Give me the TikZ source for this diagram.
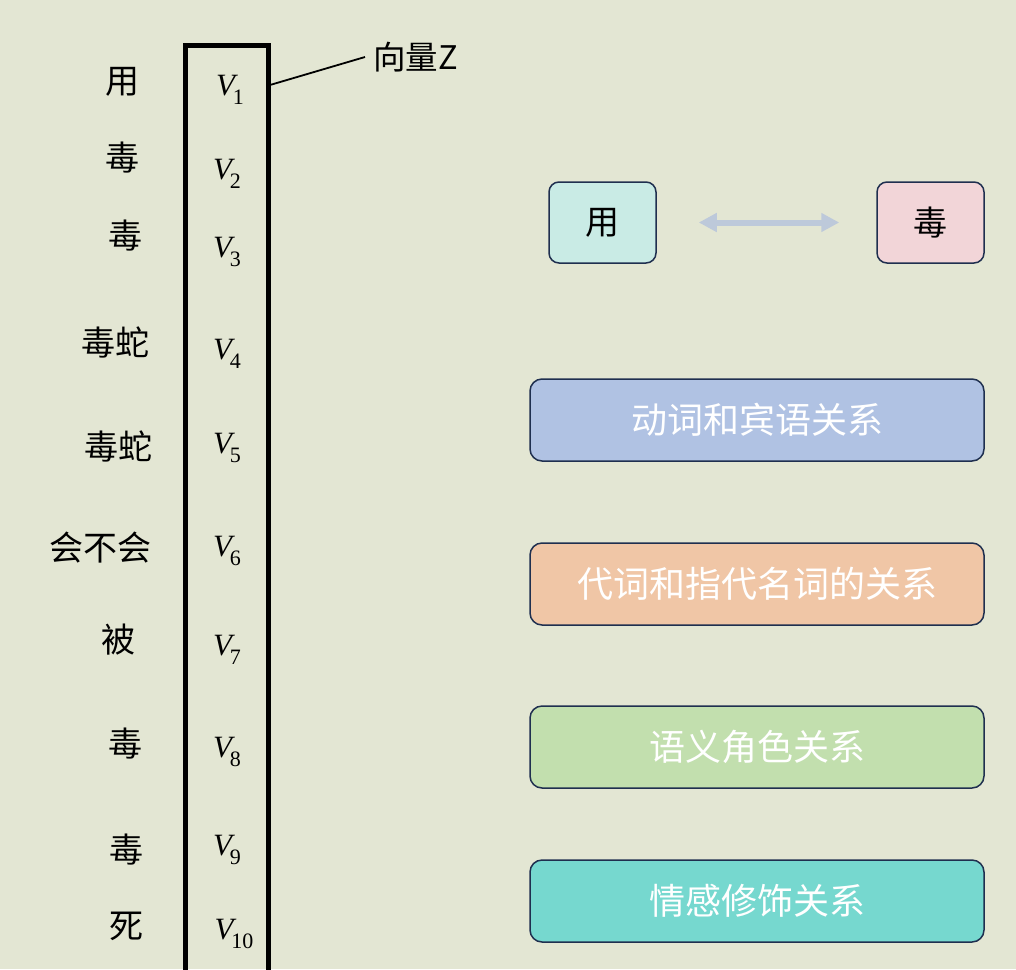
\documentclass[tikz,border=0pt]{standalone}
\usepackage{fontspec}
\newfontfamily\cjk{Noto Sans CJK SC}
\newfontfamily\vfont{Liberation Serif}
\usetikzlibrary{arrows.meta}
\definecolor{bgc}{HTML}{E3E6D3}
\definecolor{cyanbox}{HTML}{C9EBE5}
\definecolor{pinkbox}{HTML}{F2D5D8}
\definecolor{arrowc}{HTML}{BDC9DA}
\definecolor{edgec}{HTML}{1F2F4F}
\definecolor{bluebox}{HTML}{B0C2E3}
\definecolor{peachbox}{HTML}{F0C6A6}
\definecolor{greenbox}{HTML}{C2DFAE}
\definecolor{tealbox}{HTML}{76D8CF}
\newcommand{\vsub}[1]{{\vfont\itshape V}\kern-2pt\raisebox{-0.28em}{\vfont\fontsize{22}{23}\selectfont #1}}
\begin{document}
\begin{tikzpicture}[x=1pt,y=-1pt,
  word/.style={font=\cjk\fontsize{34}{36}\selectfont, inner sep=0pt},
  vlab/.style={font=\fontsize{31}{33}\selectfont, inner sep=0pt},
  small/.style={draw=edgec, line width=1.5pt, rounded corners=10pt, minimum width=107pt, minimum height=81pt, inner sep=0pt, font=\cjk\fontsize{34}{36}\selectfont},
  rel/.style={draw=edgec, line width=1.5pt, rounded corners=12pt, minimum width=454pt, minimum height=82pt, inner sep=0pt, text=white, font=\cjk\fontsize{36}{38}\selectfont}]
\useasboundingbox (0,0) rectangle (1016,969);
\fill[bgc] (0,0) rectangle (1016,969);
% vector column
\node[draw, line width=5pt, minimum width=83pt, minimum height=960pt, anchor=north west, inner sep=0pt, outer sep=0pt] (vec) at (185,45.5) {};
% words
\node[word] (w1) at (122,82) {用};
\node[word] (w2) at (122,158) {毒};
\node[word] (w3) at (125,236) {毒};
\node[word] (w4) at (115,342) {毒蛇};
\node[word] (w5) at (118,446) {毒蛇};
\node[word] (w6) at (100,548) {会不会};
\node[word] (w7) at (118,640) {被};
\node[word] (w8) at (125,744) {毒};
\node[word] (w9) at (126,850) {毒};
\node[word] (w10) at (126,926) {死};
% vector labels
\node[vlab] (v1) at (230,90) {\vsub{1}};
\node[vlab] (v2) at (227,174) {\vsub{2}};
\node[vlab] (v3) at (227,252) {\vsub{3}};
\node[vlab] (v4) at (227,354) {\vsub{4}};
\node[vlab] (v5) at (227,448) {\vsub{5}};
\node[vlab] (v6) at (227,551) {\vsub{6}};
\node[vlab] (v7) at (227,650) {\vsub{7}};
\node[vlab] (v8) at (227,752) {\vsub{8}};
\node[vlab] (v9) at (227,850) {\vsub{9}};
\node[vlab] (v10) at (234,934) {\vsub{10}};
% label for vector
\node[font=\cjk\fontsize{32.5}{34}\selectfont, inner sep=0pt, anchor=west] (zlab) at (373,57) {向量Z};
\coordinate (zl) at (270,85);
\draw[line width=1.8pt] (zl) -- ([xshift=-8pt]zlab.west);
% top pair
\node[small, fill=cyanbox] (yong) at (602.5,222.5) {用};
\node[small, fill=pinkbox] (du) at (930.5,222.5) {毒};
\draw[arrowc, line width=6pt, {Triangle[length=18pt,width=18pt]}-{Triangle[length=18pt,width=18pt]}] ([xshift=42pt]yong.east) -- ([xshift=-37pt]du.west);
% relation boxes
\node[rel, fill=bluebox] (r1) at (757,420) {动词和宾语关系};
\node[rel, fill=peachbox] (r2) at (757,584) {代词和指代名词的关系};
\node[rel, fill=greenbox] (r3) at (757,747) {语义角色关系};
\node[rel, fill=tealbox] (r4) at (757,901) {情感修饰关系};
\end{tikzpicture}
\end{document}
